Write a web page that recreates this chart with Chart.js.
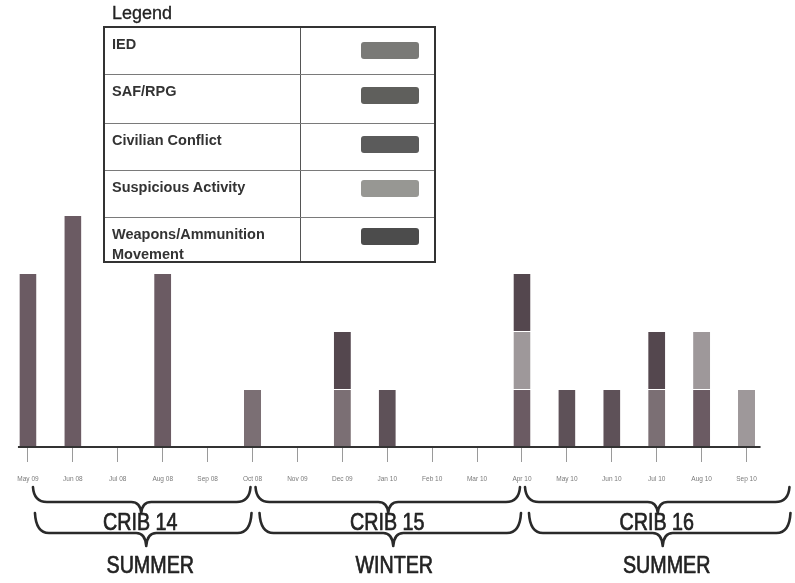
<!DOCTYPE html>
<html>
<head>
<meta charset="utf-8">
<script src="https://cdn.jsdelivr.net/npm/chart.js@4.4.1/dist/chart.umd.min.js"></script>
<style>
  html, body { margin: 0; padding: 0; background: #fff; }
  #wrap { position: relative; width: 795px; height: 583px; overflow: hidden; }
  #c { position: absolute; left: 0; top: 0; }
  #legTitle { position: absolute; left: 112px; top: 3px; font: 18px "Liberation Sans", Arial, sans-serif; color: #222; -webkit-text-stroke: 0.3px #222; }
  #legend { position: absolute; left: 103px; top: 26px; width: 333px; height: 237px; border: 2px solid #333; box-sizing: border-box; background: #fff; }
  .row { position: absolute; left: 0; width: 100%; box-sizing: border-box; }
  .row.sep { border-top: 1.5px solid #7a7a7a; }
  .lbl { position: absolute; left: 7px; top: 6px; font: bold 14.5px "Liberation Sans", Arial, sans-serif; color: #333; line-height: 20px; width: 190px; }
  .sw { position: absolute; left: 256px; width: 58px; height: 17px; border-radius: 3px; }
  #vdiv { position: absolute; left: 195px; top: 0; bottom: 0; border-left: 1.5px solid #555; }
</style>
</head>
<body>
<div id="wrap">
  <canvas id="c" width="795" height="583"></canvas>
  <div id="legTitle">Legend</div>
  <div id="legend"><div id="vdiv"></div></div>
</div>
<script>
// ---- Data ----
const categories = ["May 09","Jun 08","Jul 08","Aug 08","Sep 08","Oct 08","Nov 09","Dec 09","Jan 10","Feb 10","Mar 10","Apr 10","May 10","Jun 10","Jul 10","Aug 10","Sep 10"];
const seriesNames = ["IED","SAF/RPG","Civilian Conflict","Suspicious Activity","Weapons/Ammunition Movement"];
const iedValues        = [0,0,0,0,0,1,0,1,0,0,0,0,0,0,1,0,0];
const safRpgValues     = [3,4,0,3,0,0,0,0,0,0,0,1,0,0,0,1,0];
const civilianValues   = [0,0,0,0,0,0,0,0,1,0,0,0,1,1,0,0,0];
const suspiciousValues = [0,0,0,0,0,0,0,0,0,0,0,1,0,0,0,1,1];
const weaponsValues    = [0,0,0,0,0,0,0,1,0,0,0,1,0,0,1,0,0];
const cribLabels   = ["CRIB 14","CRIB 15","CRIB 16"];
const seasonLabels = ["SUMMER","WINTER","SUMMER"];
const groupStart = [0,5,11];
const groupEnd   = [5,11,17];

// ---- Styles ----
const barColors    = ["#7b6f74","#6b5b63","#5e5158","#9e989a","#54474e"];
const legendColors = ["#7a7a77","#5f5f5c","#5b5b5b","#979793","#4c4c4c"];
const legendLabelsHtml = ["IED","SAF/RPG","Civilian Conflict","Suspicious Activity","Weapons/Ammunition<br>Movement"];

// ---- Legend table (HTML) ----
const leg = document.getElementById('legend');
const rowTops = [0, 47, 96, 143, 190];
const rowHeights = [47, 49, 47, 47, 45];
const swTops = [14, 12, 12, 9, 10];
seriesNames.forEach((n, i) => {
  const r = document.createElement('div');
  r.className = 'row' + (i > 0 ? ' sep' : '');
  r.style.top = (rowTops[i] - (i > 0 ? 1 : 0)) + 'px';
  r.style.height = rowHeights[i] + 'px';
  r.innerHTML = '<div class="lbl">' + legendLabelsHtml[i] + '</div><div class="sw" style="top:' + swTops[i] + 'px;background:' + legendColors[i] + '"></div>';
  leg.appendChild(r);
});

// ---- Decorations plugin ----
function brace(ctx, x1, x2, xc, yEnd, yMid, yTip) {
  const r = 14;
  ctx.beginPath();
  ctx.moveTo(x1, yEnd);
  ctx.quadraticCurveTo(x1 + 1, yMid, x1 + r, yMid);
  ctx.lineTo(xc - 10, yMid);
  ctx.quadraticCurveTo(xc - 1, yMid, xc, yTip);
  ctx.moveTo(xc, yTip);
  ctx.quadraticCurveTo(xc + 1, yMid, xc + 10, yMid);
  ctx.lineTo(x2 - r, yMid);
  ctx.quadraticCurveTo(x2 - 1, yMid, x2, yEnd);
  ctx.stroke();
}
function narrowText(ctx, text, x, y) {
  ctx.save();
  ctx.translate(x, y);
  ctx.scale(0.82, 1);
  ctx.lineWidth = 0.7;
  ctx.strokeStyle = '#222';
  ctx.fillText(text, 0, 0);
  ctx.strokeText(text, 0, 0);
  ctx.restore();
}
const deco = {
  id: 'deco',
  afterDraw(chart) {
    const ctx = chart.ctx;
    const xs = chart.scales.x;
    const base = chart.chartArea.bottom;
    ctx.save();
    // axis line
    ctx.strokeStyle = '#333';
    ctx.lineWidth = 2;
    ctx.beginPath();
    ctx.moveTo(xs.getPixelForValue(0) - 10, base);
    ctx.lineTo(xs.getPixelForValue(16) + 14, base);
    ctx.stroke();
    // braces
    ctx.strokeStyle = '#2a2a2a';
    ctx.lineWidth = 2.6;
    ctx.lineCap = 'round';
    ctx.lineJoin = 'round';
    ctx.fillStyle = '#222';
    ctx.font = '24px "Liberation Sans", Arial, sans-serif';
    ctx.textAlign = 'center';
    ctx.textBaseline = 'middle';
    for (let i = 0; i < cribLabels.length; i++) {
      const a = xs.getPixelForValue(groupStart[i]);
      const b = xs.getPixelForValue(groupEnd[i]);
      const mid = (a + b) / 2;
      ctx.strokeStyle = '#2a2a2a';
      ctx.lineWidth = 2.6;
      brace(ctx, a + (i === 0 ? 5 : 3), b - 2, mid + 1, 487, 502, 513);
      brace(ctx, a + 7, b - 1, mid + 6, 513, 533, 546);
      narrowText(ctx, cribLabels[i], mid, 523);
      narrowText(ctx, seasonLabels[i], mid + 10 - (i === 1 ? 3 : 0), 566);
    }
    ctx.restore();
  }
};

const datasets = seriesNames.map((n, i) => ({
  label: n,
  data: [iedValues, safRpgValues, civilianValues, suspiciousValues, weaponsValues][i],
  backgroundColor: barColors[i],
  borderColor: 'rgba(255,255,255,0.18)',
  borderWidth: { top: 1, left: 0, right: 0, bottom: 0 },
  borderSkipped: false,
  barPercentage: 0.38,
  categoryPercentage: 1.0
}));

new Chart(document.getElementById('c'), {
  type: 'bar',
  data: { labels: categories, datasets },
  options: {
    responsive: false,
    animation: false,
    devicePixelRatio: 1,
    layout: { padding: { left: 5.5, right: 26, top: 41, bottom: 96 } },
    plugins: { legend: { display: false }, tooltip: { enabled: false }, title: { display: false } },
    scales: {
      x: {
        stacked: true,
        afterFit(scale) { scale.height = 40; },
        border: { display: false },
        grid: { display: true, offset: false, drawOnChartArea: false, drawTicks: true, tickLength: 15, color: '#9a9a9a', lineWidth: 1 },
        ticks: { autoSkip: false, maxRotation: 0, minRotation: 0, padding: 13, color: '#7a7a7a', font: { size: 6.5, family: '"Liberation Sans", Arial, sans-serif' } }
      },
      y: { stacked: true, display: false, min: 0, max: 7 }
    }
  },
  plugins: [deco]
});
</script>
</body>
</html>
